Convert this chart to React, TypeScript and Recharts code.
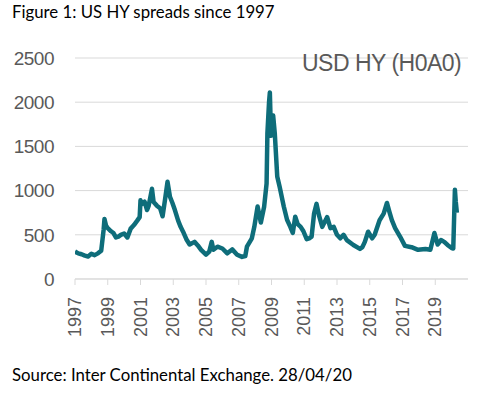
import React from "react";
import { LineChart, Line, XAxis, YAxis, CartesianGrid } from "recharts";

const years = [
  1997.0, 1997.2, 1997.4, 1997.6, 1997.8, 1998.0, 1998.2, 1998.4, 1998.6, 1998.75, 1998.8, 1998.9,
  1999.0, 1999.2, 1999.35, 1999.5, 1999.65, 1999.8, 2000.0, 2000.2, 2000.4, 2000.6, 2000.8, 2000.95,
  2001.0, 2001.1, 2001.25, 2001.4, 2001.5, 2001.7, 2001.8, 2002.0, 2002.2, 2002.35, 2002.5, 2002.65,
  2002.8, 2002.95, 2003.1, 2003.3, 2003.45, 2003.6, 2003.8, 2004.0, 2004.3, 2004.5, 2004.7, 2005.0,
  2005.2, 2005.35, 2005.45, 2005.7, 2006.0, 2006.3, 2006.6, 2006.9, 2007.2, 2007.4, 2007.5, 2007.8,
  2007.95, 2008.15, 2008.35, 2008.55, 2008.7, 2008.75, 2008.85, 2008.9, 2008.97, 2009.1, 2009.2, 2009.35,
  2009.5, 2009.75, 2009.95, 2010.15, 2010.3, 2010.45, 2010.6, 2010.78, 2010.95, 2011.15, 2011.3, 2011.45,
  2011.6, 2011.75, 2011.9, 2012.1, 2012.3, 2012.4, 2012.6, 2012.8, 2013.0, 2013.2, 2013.4, 2013.6,
  2014.0, 2014.4, 2014.55, 2014.7, 2014.9, 2015.15, 2015.3, 2015.6, 2015.85, 2016.05, 2016.2, 2016.35,
  2016.55, 2016.85, 2017.15, 2017.55, 2017.95, 2018.4, 2018.7, 2018.95, 2019.15, 2019.35, 2019.55, 2019.75,
  2020.0, 2020.1, 2020.2, 2020.25, 2020.32,
];

const spreads = [
  310, 290, 280, 265, 255, 285, 270, 290, 320, 560, 680, 600,
  575, 540, 520, 470, 480, 500, 515, 470, 570, 610, 660, 700,
  890, 850, 875, 780, 830, 1020, 870, 830, 800, 710, 900, 1100,
  930, 860, 780, 660, 590, 535, 450, 390, 420, 380, 330, 275,
  310, 420, 330, 365, 345, 290, 335, 275, 250, 260, 365, 460,
  590, 820, 640, 818, 1080, 1650, 2000, 2110, 1620, 1850, 1650, 1160,
  1040, 820, 670, 590, 520, 705, 620, 590, 540, 450, 460, 480,
  740, 850, 720, 590, 665, 700, 575, 590, 500, 460, 500, 440,
  385, 340, 360, 420, 535, 460, 500, 665, 740, 860, 760, 665,
  575, 480, 375, 360, 330, 340, 330, 520, 390, 440, 420, 385,
  350, 345, 1010, 880, 750,
];

const xTicks = [1997, 1999, 2001, 2003, 2005, 2007, 2009, 2011, 2013, 2015, 2017, 2019];
const yTicks = [0, 500, 1000, 1500, 2000, 2500];

const titleText = "Figure 1: US HY spreads since 1997";
const seriesLabel = "USD HY (H0A0)";
const sourceText = "Source: Inter Continental Exchange. 28/04/20";

const data = years.map((x, i) => ({ x, v: spreads[i] }));

const axisFont = "'Liberation Sans', Arial, sans-serif";
const textFont = "Lato, 'Open Sans', sans-serif";

const XTick = (props: any) => {
  const { x, y, payload } = props;
  return (
    <text
      x={x}
      y={y}
      transform={`rotate(-90 ${x} ${y})`}
      textAnchor="end"
      dominantBaseline="central"
      fill="#595959"
      fontSize={18}
      fontFamily={axisFont}
    >
      {payload.value}
    </text>
  );
};

export default function App() {
  return (
    <div style={{ position: "absolute", left: 0, top: 0, width: 480, height: 395, background: "#fff" }}>
      <LineChart width={480} height={395} data={data} margin={{ top: 58, right: 12, bottom: 0, left: 0 }}>
        <CartesianGrid vertical={false} stroke="#d9d9d9" strokeWidth={1} />
        <XAxis
          type="number"
          dataKey="x"
          domain={[1997, 2021]}
          ticks={xTicks}
          interval={0}
          allowDataOverflow
          height={116}
          stroke="#d9d9d9"
          tickSize={6}
          tickMargin={12}
          tick={<XTick />}
        />
        <YAxis
          domain={[0, 2500]}
          ticks={yTicks}
          interval={0}
          width={75}
          axisLine={false}
          tickLine={false}
          tickSize={0}
          tickMargin={21}
          tick={{ fill: "#595959", fontSize: 19, fontFamily: axisFont, letterSpacing: -0.5 }}
        />
        <Line
          type="linear"
          dataKey="v"
          stroke="#0e6d7a"
          strokeWidth={4.5}
          strokeLinejoin="round"
          dot={false}
          isAnimationActive={false}
        />
      </LineChart>
      <div
        style={{
          position: "absolute", left: 12, top: 1, fontFamily: textFont, fontSize: 16.8, color: "#000", whiteSpace: "nowrap",
        }}
      >
        {titleText}
      </div>
      <div
        style={{
          position: "absolute", left: 302, top: 50, fontFamily: axisFont, fontSize: 23, letterSpacing: -0.5, color: "#595959", whiteSpace: "nowrap",
        }}
      >
        {seriesLabel}
      </div>
      <div
        style={{
          position: "absolute", left: 12, top: 364, fontFamily: textFont, fontSize: 16.8, color: "#000", whiteSpace: "nowrap",
        }}
      >
        {sourceText}
      </div>
    </div>
  );
}
